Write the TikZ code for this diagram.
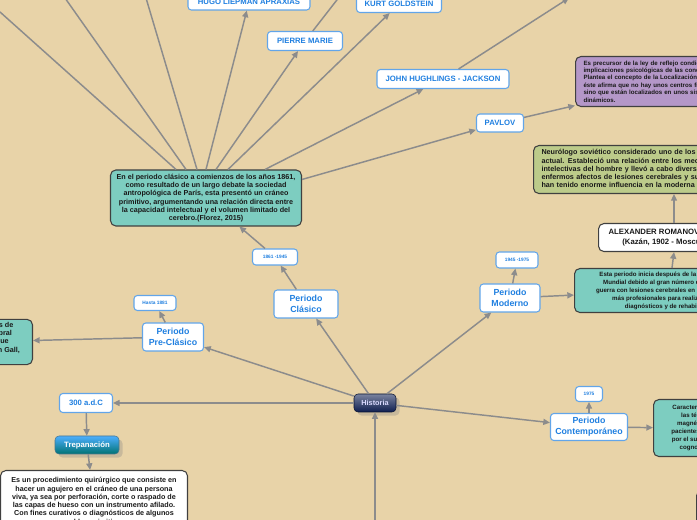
\documentclass[tikz,border=0pt]{standalone}
\usepackage{fontspec}
\setmainfont{Liberation Sans}
\usetikzlibrary{arrows.meta,positioning,shadows}
\definecolor{paper}{HTML}{E8D3A8}
\definecolor{linkgray}{HTML}{8C8C8C}
\definecolor{topicblue}{HTML}{1F7FE0}
\definecolor{tealbox}{HTML}{7DCDC0}
\definecolor{purplebox}{HTML}{B497C8}
\definecolor{olivebox}{HTML}{BCCB8A}
\definecolor{navy}{HTML}{0E1E50}
\newdimen\px \px=0.75pt

\begin{document}
\begin{tikzpicture}[
    x=0.75pt, y=-0.75pt,
    font=\bfseries,
    link/.style={draw=linkgray, line width=1.1pt, -{Triangle[length=5pt,width=4.5pt]}},
    plain/.style={draw=linkgray, line width=1.1pt},
    topic/.style={rectangle, rounded corners=2.5pt, draw=topicblue!70, fill=white, line width=0.8pt, text=topicblue, align=center, inner sep=1pt, font=\bfseries\fontsize{5.8}{7}\selectfont},
    period/.style={topic, font=\bfseries\fontsize{6.6}{8.2}\selectfont},
    date/.style={topic, font=\bfseries\fontsize{3.6}{4.5}\selectfont},
    note/.style={rectangle, rounded corners=4pt, draw=black!75, line width=0.8pt, align=center, inner sep=2pt, text=black!90, font=\bfseries\fontsize{5.4}{6.2}\selectfont},
    leftnote/.style={note, align=left, inner xsep=6pt}
]
    \fill[paper] (0,0) rectangle (697,520);
    \clip (0,0) rectangle (697,520);

    % centre
    \node[rectangle, rounded corners=3pt, draw=navy!60!black, top color=navy!55, bottom color=navy, text=white!85!blue, minimum width=42*\px, minimum height=18*\px, font=\bfseries\fontsize{5.5}{6.5}\selectfont, drop shadow={opacity=0.3}] (hist) at (375,403) {Historia};
    \coordinate (below) at (375,530);

    % Pre-clasico branch
    \node[topic, minimum width=53*\px, minimum height=19*\px] (adc) at (86,403) {300 a.d.C};
    \node[rectangle, rounded corners=3pt, draw=cyan!50!black, top color=cyan!55!blue!70, bottom color=cyan!45!black, text=white, minimum width=64*\px, minimum height=18*\px, font=\bfseries\fontsize{5.8}{7}\selectfont, drop shadow={opacity=0.3}] (trep) at (87,445) {Trepanación};
    \node[note, fill=white, minimum width=187*\px, minimum height=62*\px, anchor=north] (trepnote) at (94,470)
        {Es un procedimiento quirúrgico que consiste en\\hacer un agujero en el cráneo de una persona\\viva, ya sea por perforación, corte o raspado de\\las capas de hueso con un instrumento afilado.\\Con fines curativos o diagnósticos de algunos\\pueblos primitivos.};
    \node[period, minimum width=61*\px, minimum height=28*\px] (pre) at (173,337) {Periodo\\Pre-Clásico};
    \node[date, minimum width=42*\px, minimum height=15*\px] (hasta) at (155,303) {Hasta 1881};
    \node[note, fill=tealbox, minimum width=120*\px, minimum height=43*\px, anchor=east] (gall) at (33,342)
        {Se inician las teorías de\\la localización cerebral\\con la frenología que\\propuso Franz Joseph Gall,\\(Florez, s.f.)};

    % Clasico branch
    \node[period, minimum width=64*\px, minimum height=28*\px] (clas) at (306,304) {Periodo\\Clásico};
    \node[date, minimum width=45*\px, minimum height=16*\px] (d1861) at (275,257) {1861 -1945};
    \node[note, fill=tealbox, minimum width=191*\px, minimum height=56*\px] (clasnote) at (206,198)
        {En el periodo clásico a comienzos de los años 1861,\\como resultado de un largo debate la sociedad\\antropológica de París, esta presentó un cráneo\\primitivo, argumentando una relación directa entre\\la capacidad intelectual y el volumen limitado del\\cerebro.(Florez, 2015)};
    \node[topic, minimum width=122*\px, minimum height=16*\px] (hugo) at (249,2) {HUGO LIEPMAN APRAXIAS};
    \node[topic, minimum width=75*\px, minimum height=19*\px] (marie) at (305,41) {PIERRE MARIE};
    \node[topic, minimum width=85*\px, minimum height=17*\px] (kurt) at (399,4) {KURT GOLDSTEIN};
    \node[topic, minimum width=132*\px, minimum height=19*\px] (jackson) at (443,79) {JOHN HUGHLINGS - JACKSON};
    \node[topic, minimum width=47*\px, minimum height=18*\px] (pavlov) at (500,123) {PAVLOV};
    \node[leftnote, fill=purplebox, text width=190*\px, minimum height=50*\px, anchor=north west, font=\bfseries\fontsize{4.6}{5.6}\selectfont] (pavnote) at (575,56)
        {Es precursor de la ley de reflejo condicionado y de las\\implicaciones psicológicas de las conductas.\\Plantea el concepto de la Localización dinámica,\\éste afirma que no hay unos centros fijos,\\sino que están localizados en unos sistemas\\dinámicos.};
    \coordinate (off1) at (0,12);
    \coordinate (off2) at (65,-2);
    \coordinate (off3) at (146,-2);
    \coordinate (off4) at (340,-4);
    \coordinate (off5) at (569,-2);

    % Moderno branch
    \node[period, minimum width=60*\px, minimum height=28*\px] (mod) at (510,298) {Periodo\\Moderno};
    \node[date, minimum width=42*\px, minimum height=16*\px] (d1945) at (517,260) {1945 -1975};
    \node[note, fill=tealbox, minimum width=196*\px, minimum height=44*\px, anchor=north west, font=\bfseries\fontsize{4.6}{6}\selectfont] (modnote) at (574,268)
        {Esta periodo inicia después de la Segunda Guerra\\Mundial debido al gran número de pacientes de\\guerra con lesiones cerebrales en el cual se requirió\\más profesionales para realizar procesos\\diagnósticos y de rehabilitación.};
    \node[note, fill=white, minimum width=150*\px, minimum height=28*\px, anchor=north west, font=\bfseries\fontsize{5.8}{7.2}\selectfont] (luria) at (598,223)
        {ALEXANDER ROMANOVICH LURIA\\(Kazán, 1902 - Moscú, 1977)};
    \node[leftnote, fill=olivebox, text width=330*\px, minimum height=48*\px, anchor=north west] (lurianote) at (533,145)
        {Neurólogo soviético considerado uno de los pioneros de la neuropsicología\\actual. Estableció una relación entre los mecanismos cerebrales y las funciones\\intelectivas del hombre y llevó a cabo diversas investigaciones con\\enfermos afectos de lesiones cerebrales y su rehabilitación, que\\han tenido enorme influencia en la moderna Neuropsicología.};

    % Contemporaneo branch
    \node[period, minimum width=77*\px, minimum height=27*\px] (cont) at (589,427) {Periodo\\Contemporáneo};
    \node[date, minimum width=27*\px, minimum height=15*\px] (d1975) at (589,394) {1975};
    \node[note, fill=tealbox, minimum width=90*\px, minimum height=57*\px, anchor=north west, font=\bfseries\fontsize{4.6}{6}\selectfont] (contnote) at (653,399)
        {Caracterizado por\\las técnicas\\magnéticas en\\pacientes tratados\\por el surgimiento\\cognoscitivo};
    \node[note, fill=olivebox!60!brown, minimum width=80*\px, minimum height=40*\px, anchor=north west] (brown) at (696,490) {};

    % connectors
    \draw[link] (hist) -- (adc);
    \draw[link] (adc) -- (trep);
    \draw[link] (trep) -- (trepnote);
    \draw[link] (hist) -- (pre);
    \draw[link] (pre) -- (hasta);
    \draw[link] (pre) -- (gall);
    \draw[link] (hist) -- (clas);
    \draw[link] (clas) -- (d1861);
    \draw[link] (d1861) -- (clasnote);
    \draw[plain] ([xshift=-30*\px]clasnote.north) -- (off1);
    \draw[plain] ([xshift=-20*\px]clasnote.north) -- (off2);
    \draw[plain] ([xshift=-9*\px]clasnote.north) -- (off3);
    \draw[link] ([xshift=0*\px]clasnote.north) -- (hugo);
    \draw[link] ([xshift=10*\px]clasnote.north) -- (marie);
    \draw[plain] (marie) -- (off4);
    \draw[link] ([xshift=22*\px]clasnote.north) -- (kurt);
    \draw[link] ([xshift=-37*\px]clasnote.north east) -- (jackson);
    \draw[link] (jackson) -- (off5);
    \draw[link] ([yshift=-10*\px]clasnote.north east) -- (pavlov);
    \draw[link] (pavlov) -- (pavnote);
    \draw[link] (hist) -- (mod);
    \draw[link] (mod) -- (d1945);
    \draw[link] (mod) -- (modnote);
    \draw[link] ([xshift=98*\px]modnote.north west) -- ([xshift=76*\px]luria.south west);
    \draw[link] ([xshift=76*\px]luria.north west) -- ([xshift=141*\px]lurianote.south west);
    \draw[link] (hist) -- (cont);
    \draw[link] (cont) -- (d1975);
    \draw[link] (cont) -- (contnote);
    \draw[link] (below) -- (hist);
\end{tikzpicture}
\end{document}
